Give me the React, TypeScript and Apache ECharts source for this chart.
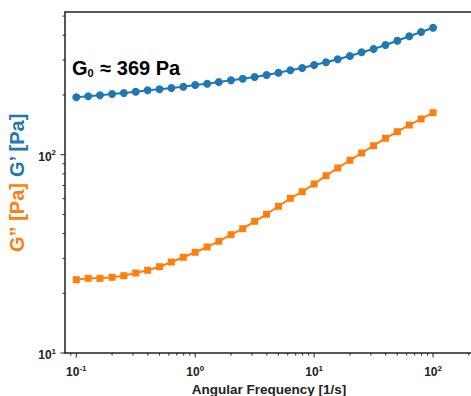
import React, { useEffect, useRef } from "react";
import * as echarts from "echarts";

// Angular frequency [1/s]
const frequency = [
  0.1, 0.126, 0.158, 0.2, 0.251, 0.316, 0.398, 0.501, 0.631, 0.794,
  1, 1.26, 1.58, 2, 2.51, 3.16, 3.98, 5.01, 6.31, 7.94,
  10, 12.6, 15.8, 20, 25.1, 31.6, 39.8, 50.1, 63.1, 79.4, 100,
];
// Storage modulus G' [Pa]
const storageModulus = [
  194.8, 197.0, 199.3, 202.3, 204.7, 207.8, 211.3, 213.7, 217.0, 220.3,
  224.7, 228.1, 232.6, 237.3, 241.7, 246.5, 252.3, 259.2, 266.5, 273.7,
  283.4, 292.4, 302.8, 314.6, 328.4, 341.2, 357.4, 375.7, 395.4, 415.6, 436.9,
];
// Loss modulus G'' [Pa]
const lossModulus = [
  23.42, 23.8, 23.8, 24.08, 24.53, 25.31, 26.12, 27.24, 28.77, 30.39,
  32.21, 34.25, 36.59, 39.5, 42.34, 46.15, 50.07, 54.93, 60.27, 65.08,
  71.15, 78.37, 85.68, 93.71, 102.0, 111.0, 121.0, 130.6, 141.1, 151.4, 162.8,
];

const xMajorTicks = [0.1, 1, 10, 100];
const xMinorTicks = [
  0.09, 0.2, 0.3, 0.4, 0.5, 0.6, 0.7, 0.8, 0.9,
  2, 3, 4, 5, 6, 7, 8, 9,
  20, 30, 40, 50, 60, 70, 80, 90, 200,
];
const yMajorTicks = [10, 100];
const yMinorTicks = [20, 30, 40, 50, 60, 70, 80, 90, 200, 300, 400, 500];

const X_MIN = Math.pow(10, -1.095);
const X_MAX = Math.pow(10, 2.336);
const Y_MIN = 10;
const Y_MAX = Math.pow(10, 2.7196);

const FONT = "'Liberation Sans', Arial, Helvetica, sans-serif";
const BLUE = "#1f77b4";
const ORANGE = "#ff7f0e";
const DARK = "#222222";

function powLabel(v: number): string {
  const l = Math.log10(v);
  const e = Math.round(l);
  if (Math.abs(l - e) > 1e-6) return "";
  return `{b|10}{s|${e}}`;
}

const labelRich = {
  b: { fontSize: 12, fontWeight: "bold", color: DARK, fontFamily: FONT, verticalAlign: "bottom", lineHeight: 16 },
  s: { fontSize: 8, fontWeight: "bold", color: DARK, fontFamily: FONT, verticalAlign: "bottom", lineHeight: 16, padding: [0, 0, 6, 0] },
};

export default function App() {
  const ref = useRef<HTMLDivElement>(null);

  useEffect(() => {
    if (!ref.current) return;
    const chart = echarts.init(ref.current, null, { renderer: "svg" });

    const tickData: number[][] = [];
    xMajorTicks.forEach((v) => tickData.push([v, Y_MIN, 0, 1]));
    xMinorTicks.forEach((v) => tickData.push([v, Y_MIN, 0, 0]));
    yMajorTicks.forEach((v) => tickData.push([X_MIN, v, 1, 1]));
    yMinorTicks.forEach((v) => tickData.push([X_MIN, v, 1, 0]));

    chart.setOption({
      animation: false,
      backgroundColor: "#ffffff",
      grid: {
        left: 65,
        top: 12,
        width: 408,
        height: 341,
        containLabel: false,
        outerBoundsMode: "none",
        show: false,
      },
      xAxis: [
        {
          type: "log",
          logBase: 10,
          min: X_MIN,
          max: X_MAX,
          name: "Angular Frequency [1/s]",
          nameLocation: "middle",
          nameGap: 22,
          nameTextStyle: { fontSize: 13.5, fontWeight: "bold", color: DARK, fontFamily: FONT },
          axisLine: { lineStyle: { color: DARK, width: 1.5 } },
          axisTick: { show: false },
          splitLine: { show: false },
          axisLabel: { formatter: powLabel, rich: labelRich, margin: 9, showMinLabel: false, showMaxLabel: false },
        },
        {
          type: "log",
          logBase: 10,
          min: X_MIN,
          max: X_MAX,
          position: "top",
          axisLine: { show: true, lineStyle: { color: DARK, width: 1.5 } },
          axisTick: { show: false },
          axisLabel: { show: false },
          splitLine: { show: false },
        },
      ],
      yAxis: {
        type: "log",
        logBase: 10,
        min: Y_MIN,
        max: Y_MAX,
        name: "{o|G\u201D [Pa]} {b|G\u2019 [Pa]}",
        nameLocation: "middle",
        nameRotate: 90,
        nameGap: 34,
        nameTextStyle: {
          fontSize: 20,
          fontWeight: "bold",
          fontFamily: FONT,
          rich: {
            o: { fontSize: 20, fontWeight: "bold", color: ORANGE, fontFamily: FONT },
            b: { fontSize: 20, fontWeight: "bold", color: BLUE, fontFamily: FONT },
          },
        },
        axisLine: { lineStyle: { color: DARK, width: 1.5 } },
        axisTick: { show: false },
        splitLine: { show: false },
        axisLabel: { formatter: powLabel, rich: labelRich, margin: 9, showMaxLabel: false },
      },
      series: [
        {
          name: "G'",
          type: "line",
          xAxisIndex: 0,
          data: frequency.map((f, i) => [f, storageModulus[i]]),
          symbol: "circle",
          symbolSize: 8,
          itemStyle: { color: BLUE },
          lineStyle: { color: BLUE, width: 2 },
          z: 3,
        },
        {
          name: "G''",
          type: "line",
          xAxisIndex: 0,
          data: frequency.map((f, i) => [f, lossModulus[i]]),
          symbol: "rect",
          symbolSize: 7,
          itemStyle: { color: ORANGE },
          lineStyle: { color: ORANGE, width: 2 },
          z: 3,
        },
        {
          type: "custom",
          xAxisIndex: 0,
          silent: true,
          clip: false,
          data: tickData,
          z: 5,
          renderItem: (params: any, api: any) => {
            const p = api.coord([api.value(0), api.value(1)]);
            const len = api.value(3) ? 4.5 : 2.5;
            const isX = api.value(2) === 0;
            return {
              type: "line",
              shape: isX
                ? { x1: p[0], y1: p[1], x2: p[0], y2: p[1] + len }
                : { x1: p[0] - len, y1: p[1], x2: p[0], y2: p[1] },
              style: { stroke: DARK, lineWidth: 1 },
            };
          },
        },
      ],
      graphic: [
        {
          type: "text",
          left: 72,
          top: 58,
          style: {
            text: "{a|G}{s|0}{a| \u2248 369 Pa}",
            rich: {
              a: { fontSize: 20, fontWeight: "bold", fill: "#000", fontFamily: FONT, verticalAlign: "bottom", lineHeight: 24 },
              s: { fontSize: 11, fontWeight: "bold", fill: "#000", fontFamily: FONT, verticalAlign: "bottom", lineHeight: 24, padding: [0, 1, 0, 0] },
            },
          },
        },
      ],
    });

    return () => chart.dispose();
  }, []);

  return (
    <div
      ref={ref}
      style={{ position: "absolute", left: 0, top: 0, width: 471, height: 396, overflow: "hidden" }}
    />
  );
}
